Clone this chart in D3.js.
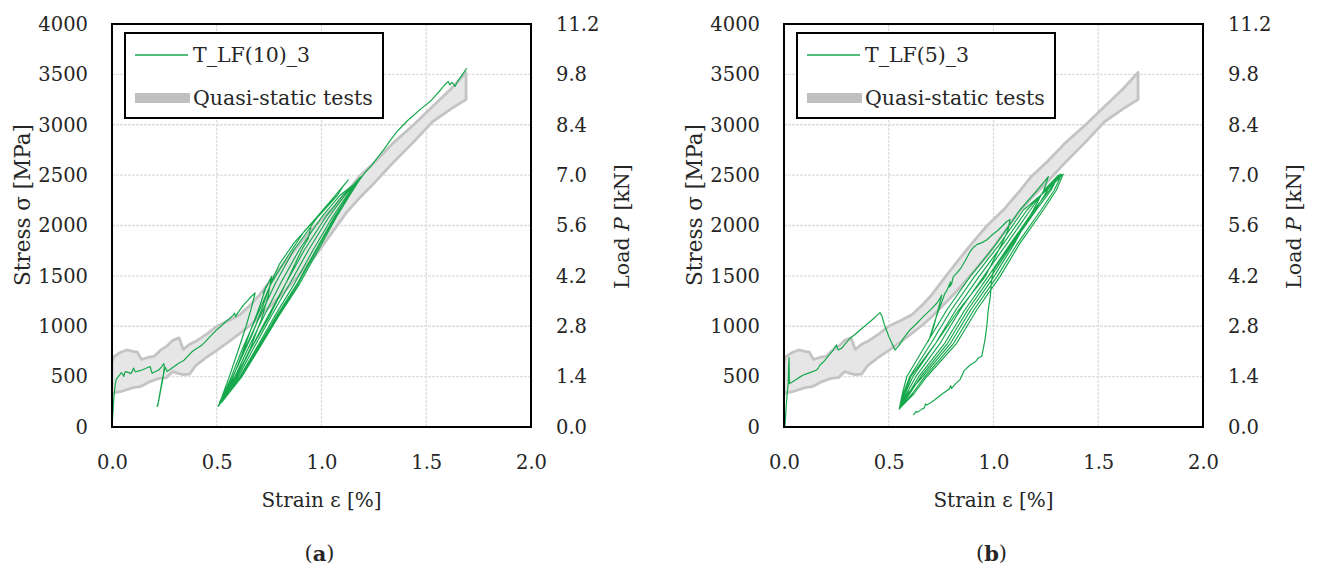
<!DOCTYPE html>
<html>
<head>
<meta charset="utf-8">
<script src="https://cdn.jsdelivr.net/npm/d3@7"></script>
<style>
  html, body { margin: 0; padding: 0; background: #fff; }
  svg { display: block; }
  text { font-family: "DejaVu Serif", serif; fill: #262626; }
</style>
</head>
<body>
<svg id="chart" width="1319" height="569"></svg>
<script>
// ---- axis ticks ----
const strainTicks = [0.0, 0.5, 1.0, 1.5, 2.0];
const stressTicks = [0, 500, 1000, 1500, 2000, 2500, 3000, 3500, 4000];
const loadTicks = [0.0, 1.4, 2.8, 4.2, 5.6, 7.0, 8.4, 9.8, 11.2];

// ---- quasi-static envelope (strain %, min / max stress MPa) ----
const bandStrain = [0.00, 0.01, 0.04, 0.07, 0.10, 0.12, 0.14, 0.17, 0.20, 0.23, 0.26, 0.29, 0.32, 0.34, 0.37, 0.40, 0.45, 0.50, 0.56, 0.61, 0.66, 0.70, 0.77, 0.83, 0.90, 0.97, 1.05, 1.12, 1.18, 1.26, 1.34, 1.44, 1.53, 1.62, 1.69];
const bandMax    = [640, 700, 740, 765, 750, 745, 670, 690, 700, 760, 800, 860, 885, 770, 820, 850, 920, 1000, 1060, 1115, 1210, 1300, 1490, 1650, 1830, 2000, 2160, 2330, 2485, 2640, 2815, 3000, 3180, 3360, 3520];
const bandMin    = [320, 340, 350, 370, 390, 395, 405, 440, 465, 485, 490, 550, 530, 520, 525, 610, 690, 760, 850, 930, 1010, 1085, 1230, 1360, 1530, 1700, 1930, 2130, 2270, 2440, 2620, 2830, 3030, 3160, 3250];

// ---- T_LF(10)_3 : [strain %, stress MPa] ----
const lf10Points = [
  [0.000,0],[0.004,120],[0.008,260],[0.012,360],[0.016,430],[0.020,470],[0.026,490],[0.032,505],[0.038,520],[0.044,540],
  [0.050,530],[0.056,500],[0.060,530],[0.064,550],[0.072,545],[0.080,540],[0.090,530],[0.097,555],[0.103,585],[0.108,560],
  [0.111,548],[0.125,555],[0.143,566],[0.160,580],[0.175,595],[0.183,600],[0.187,560],[0.191,535],[0.205,548],[0.223,566],
  [0.238,600],[0.247,630],[0.250,600],
  [0.243,480],[0.232,360],[0.222,250],[0.215,205],[0.219,215],[0.228,330],[0.240,470],[0.252,580],[0.255,590],
  [0.263,552],[0.280,575],[0.300,605],[0.318,632],[0.334,650],[0.345,665],[0.360,700],[0.370,720],[0.382,747],[0.400,775],
  [0.415,795],[0.430,815],[0.445,845],[0.460,880],[0.478,920],[0.500,965],[0.520,1000],[0.540,1040],[0.560,1075],[0.579,1110],
  [0.585,1130],[0.590,1095],[0.598,1125],[0.610,1160],[0.627,1210],[0.645,1250],[0.665,1295],[0.683,1330],
  // unload / reload cycles
  [0.665,1180],[0.640,1000],[0.603,764],[0.560,500],[0.525,300],[0.507,205],
  [0.525,260],[0.600,520],[0.660,780],[0.715,1080],[0.745,1300],[0.762,1495],
  [0.722,1330],[0.737,1400],[0.700,1170],[0.660,950],[0.620,720],[0.575,480],[0.512,215],
  [0.550,380],[0.610,650],[0.670,920],[0.720,1200],[0.760,1440],[0.800,1620],[0.870,1830],[0.953,2022],
  [0.937,1874],[0.905,1757],[0.830,1426],[0.750,1095],[0.660,764],[0.590,500],[0.515,250],[0.510,215],
  [0.520,260],[0.570,500],[0.620,764],[0.690,1095],[0.760,1426],[0.840,1700],[0.920,1950],[0.960,2040],[1.050,2260],[1.128,2452],
  [1.100,2380],[1.076,2300],[0.983,2087],[0.868,1757],[0.780,1426],[0.705,1095],[0.632,764],[0.578,500],[0.515,250],[0.510,220],
  [0.524,250],[0.617,500],[0.693,764],[0.788,1095],[0.889,1426],[0.977,1757],[1.066,2087],[1.131,2300],[1.185,2478],
  [1.150,2400],[1.088,2300],[1.002,2087],[0.893,1757],[0.805,1426],[0.724,1095],[0.646,764],[0.587,500],[0.517,250],[0.512,225],
  [0.523,250],[0.611,500],[0.684,764],[0.775,1095],[0.872,1426],[0.960,1757],[1.053,2087],[1.122,2300],[1.190,2482],
  [1.160,2410],[1.101,2300],[1.021,2087],[0.918,1757],[0.830,1426],[0.743,1095],[0.660,764],[0.596,500],[0.519,250],[0.514,228],
  [0.525,250],[0.620,500],[0.698,764],[0.794,1095],[0.897,1426],[0.985,1757],[1.072,2087],[1.135,2300],[1.192,2486],
  [1.165,2420],[1.111,2300],[1.036,2087],[0.938,1757],[0.850,1426],[0.758,1095],[0.671,764],[0.603,500],[0.521,250],[0.516,232],
  [0.524,255],[0.616,500],[0.690,764],[0.784,1095],[0.885,1426],[0.973,1757],[1.062,2087],[1.128,2300],[1.195,2490],
  // final loading
  [1.210,2530],[1.240,2600],[1.270,2680],[1.300,2760],[1.330,2850],[1.359,2930],[1.380,2975],[1.410,3040],[1.440,3095],
  [1.470,3150],[1.500,3200],[1.518,3230],[1.540,3280],[1.570,3350],[1.590,3400],[1.605,3430],[1.613,3395],[1.622,3420],
  [1.630,3405],[1.637,3380],[1.650,3430],[1.670,3490],[1.693,3560]
];

// ---- T_LF(5)_3 : [strain %, stress MPa] ----
const lf5Points = [
  [0.000,0],[0.005,20],[0.008,120],[0.010,200],[0.013,268],[0.016,350],[0.020,434],[0.022,600],[0.024,690],[0.025,560],
  [0.026,430],[0.029,434],[0.045,455],[0.060,475],[0.075,495],[0.092,516],[0.110,530],[0.130,545],[0.156,566],[0.165,590],
  [0.172,615],[0.190,650],[0.210,700],[0.235,764],[0.245,800],[0.251,814],[0.255,780],[0.259,764],[0.267,775],[0.275,781],
  [0.290,820],[0.315,880],[0.340,920],[0.363,963],[0.385,1000],[0.410,1045],[0.435,1090],[0.458,1135],[0.462,1120],[0.466,1110],
  [0.480,1010],[0.500,900],[0.515,830],[0.530,764],[0.537,780],[0.550,810],[0.570,880],[0.601,963],[0.630,1020],[0.665,1095],
  [0.700,1165],[0.729,1228],[0.745,1277],[0.753,1310],
  [0.745,1240],[0.730,1120],[0.715,1000],[0.700,910],[0.689,850],[0.693,870],[0.705,950],[0.720,1050],[0.740,1170],[0.755,1250],
  [0.768,1327],[0.775,1345],[0.785,1393],[0.795,1440],[0.790,1390],[0.800,1420],[0.808,1492],
  [0.824,1525],[0.845,1580],[0.865,1650],[0.888,1740],[0.905,1785],[0.920,1810],[0.945,1830],[0.967,1856],[0.990,1900],
  [1.020,1950],[1.045,2000],[1.063,2040],[1.079,2060],
  // unload / reload cycles
  [1.070,1960],[1.045,1840],[0.960,1492],[0.834,1161],[0.724,831],[0.605,499],[0.575,330],[0.552,180],
  [0.590,330],[0.662,499],[0.795,831],[0.891,1161],[1.002,1492],[1.100,1823],[1.190,2154],[1.240,2350],[1.262,2485],
  [1.200,2330],[1.126,2154],[1.015,1823],[0.888,1492],[0.777,1161],[0.681,831],[0.586,499],[0.565,330],[0.550,180],
  [0.620,330],[0.681,499],[0.824,831],[0.920,1161],[1.031,1492],[1.126,1823],[1.238,2154],[1.300,2350],[1.333,2510],
  [1.270,2380],[1.143,2154],[1.032,1823],[0.909,1492],[0.798,1161],[0.702,831],[0.600,499],[0.570,330],[0.552,185],
  [0.612,330],[0.672,499],[0.810,831],[0.906,1161],[1.017,1492],[1.115,1823],[1.227,2154],[1.290,2350],[1.325,2505],
  [1.260,2380],[1.160,2154],[1.048,1823],[0.931,1492],[0.820,1161],[0.724,831],[0.615,499],[0.578,330],[0.553,190],
  [0.600,330],[0.653,499],[0.781,831],[0.877,1161],[0.988,1492],[1.093,1823],[1.204,2154],[1.275,2350],[1.310,2500],
  [1.250,2370],[1.176,2154],[1.065,1823],[0.952,1492],[0.841,1161],[0.745,831],[0.629,499],[0.585,330],[0.555,195],
  [0.595,330],[0.643,499],[0.767,831],[0.863,1161],[0.974,1492],[1.082,1823],[1.193,2154],[1.275,2370],[1.320,2510],
  // final unloading
  [1.270,2390],[1.199,2154],[1.087,1823],[1.000,1560],[0.990,1440],[0.985,1300],[0.975,1160],[0.968,1000],[0.958,850],
  [0.944,700],[0.930,690],[0.920,665],[0.915,650],[0.888,615],[0.860,560],[0.840,470],[0.815,420],[0.800,384],[0.795,410],
  [0.790,380],[0.750,320],[0.720,270],[0.700,240],[0.681,218],[0.675,230],[0.670,190],[0.660,180],[0.640,150],[0.630,152],[0.617,119]
];

const panels = [
  { left: 112, name: "T_LF(10)_3", points: lf10Points, tag: "a" },
  { left: 784, name: "T_LF(5)_3",  points: lf5Points,  tag: "b" }
];

const TOP = 24, W = 419, H = 403;
const GREEN = "#17a84d";
const svg = d3.select("#chart");

panels.forEach((p, idx) => {
  const x = d3.scaleLinear().domain([0, 2]).range([0, W]);
  const y = d3.scaleLinear().domain([0, 4000]).range([H, 0]);
  const yLoad = d3.scaleLinear().domain([0, 11.2]).range([H, 0]);

  const g = svg.append("g").attr("transform", `translate(${p.left},${TOP})`);

  // grid
  g.append("g").selectAll("line").data(stressTicks.slice(1, -1)).join("line")
    .attr("x1", 0).attr("x2", W).attr("y1", d => y(d)).attr("y2", d => y(d))
    .attr("stroke", "#dedede").attr("stroke-width", 1.3).attr("stroke-dasharray", "3,1");
  g.append("g").selectAll("line").data(strainTicks.slice(1, -1)).join("line")
    .attr("y1", 0).attr("y2", H).attr("x1", d => x(d)).attr("x2", d => x(d))
    .attr("stroke", "#dedede").attr("stroke-width", 1.3).attr("stroke-dasharray", "3,1");

  const clipId = "clip" + idx;
  g.append("clipPath").attr("id", clipId).append("rect").attr("width", W).attr("height", H);
  const plot = g.append("g").attr("clip-path", `url(#${clipId})`);

  // quasi-static envelope
  const area = d3.area()
    .x((d, i) => x(bandStrain[i]))
    .y0((d, i) => y(bandMin[i]))
    .y1((d, i) => y(bandMax[i]));
  plot.append("path").datum(bandStrain).attr("d", area)
    .attr("fill", "#e6e6e6").attr("stroke", "#c4c4c4").attr("stroke-width", 2.8)
    .attr("stroke-linejoin", "round");

  // cyclic test curve
  const line = d3.line().x(d => x(d[0])).y(d => y(d[1]));
  plot.append("path").datum(p.points).attr("d", line)
    .attr("fill", "none").attr("stroke", GREEN).attr("stroke-width", 1.2)
    .attr("stroke-linejoin", "round");

  // frame
  g.append("rect").attr("width", W).attr("height", H)
    .attr("fill", "none").attr("stroke", "#000").attr("stroke-width", 2);

  // axes
  const styleAxis = a => {
    a.select(".domain").remove();
    a.attr("font-family", "DejaVu Serif").attr("font-size", 19.5);
    a.selectAll("text").attr("fill", "#262626");
  };
  g.append("g").call(d3.axisLeft(y).tickValues(stressTicks).tickFormat(d3.format("d")).tickSize(0).tickPadding(24))
    .call(styleAxis);
  g.append("g").attr("transform", `translate(${W},0)`)
    .call(d3.axisRight(yLoad).tickValues(loadTicks).tickFormat(d3.format(".1f")).tickSize(0).tickPadding(25))
    .call(styleAxis);
  g.append("g").attr("transform", `translate(0,${H})`)
    .call(d3.axisBottom(x).tickValues(strainTicks).tickFormat(d3.format(".1f")).tickSize(0).tickPadding(28))
    .call(styleAxis);

  // axis titles
  const ty = g.append("text").attr("transform", `translate(-90,${181}) rotate(-90)`)
    .attr("text-anchor", "middle").attr("dominant-baseline", "central").attr("font-size", 21.5);
  ty.append("tspan").text("Stress ");
  ty.append("tspan").text("σ [MPa]");

  const tl = g.append("text").attr("transform", `translate(${W + 91},${H / 2 + 1}) rotate(-90)`)
    .attr("text-anchor", "middle").attr("dominant-baseline", "central").attr("font-size", 20.5);
  tl.append("tspan").text("Load ");
  tl.append("tspan").attr("font-style", "italic").text("P");
  tl.append("tspan").text(" [kN]");

  g.append("text").attr("x", W / 2).attr("y", 476).attr("text-anchor", "middle")
    .attr("dominant-baseline", "central").attr("font-size", 20).text("Strain ε [%]");

  const tag = g.append("text").attr("x", W / 2 - 2).attr("y", 529).attr("text-anchor", "middle")
    .attr("dominant-baseline", "central").attr("font-size", 21);
  tag.append("tspan").text("(");
  tag.append("tspan").attr("font-weight", "bold").text(p.tag);
  tag.append("tspan").text(")");

  // legend
  const lg = g.append("g").attr("transform", "translate(13,9)");
  lg.append("rect").attr("width", 258).attr("height", 85)
    .attr("fill", "#fff").attr("stroke", "#000").attr("stroke-width", 2);
  lg.append("line").attr("x1", 10).attr("x2", 63).attr("y1", 22).attr("y2", 22)
    .attr("stroke", GREEN).attr("stroke-width", 1.4);
  lg.append("text").attr("x", 68).attr("y", 22).attr("dominant-baseline", "central")
    .attr("font-size", 20.5).text(p.name);
  lg.append("rect").attr("x", 10).attr("y", 60).attr("width", 55).attr("height", 10).attr("fill", "#c0c0c0");
  lg.append("text").attr("x", 68).attr("y", 65).attr("dominant-baseline", "central")
    .attr("font-size", 20.5).text("Quasi-static tests");
});
</script>
</body>
</html>
